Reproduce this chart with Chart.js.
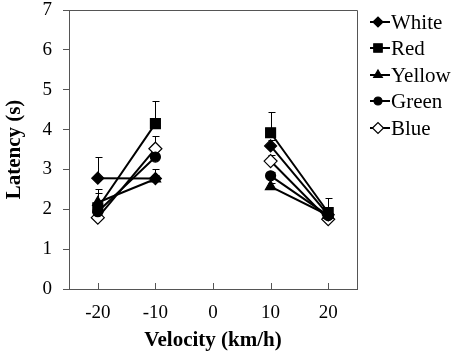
<!DOCTYPE html>
<html>
<head>
<meta charset="utf-8">
<script src="https://cdn.jsdelivr.net/npm/chart.js@4/dist/chart.umd.min.js"></script>
<style>
  html, body { margin: 0; padding: 0; background: #fff; }
  #wrap { width: 454px; height: 354px; }
</style>
</head>
<body>
<div id="wrap"><canvas id="latencyChart" width="454" height="354"></canvas></div>
<script>
// velocity (km/h), 0 is a gap between the two groups
const velocities = [-20, -10, 0, 10, 20];
const xTicks = [-20, -10, 0, 10, 20];
const yTicks = [0, 1, 2, 3, 4, 5, 6, 7];

const seriesNames = ["White", "Red", "Yellow", "Green", "Blue"];
const white = [2.78, 2.77, null, 3.59, 1.86];
const red = [2.04, 4.15, null, 3.92, 1.92];
const yellow = [2.17, 2.76, null, 2.57, 1.85];
const green = [1.94, 3.31, null, 2.84, 1.84];
const blue = [1.79, 3.52, null, 3.21, 1.75];

// upper error (s)
const whiteErr = [0.52, 0.1, null, 0.15, 0.1];
const redErr = [0.36, 0.57, null, 0.53, 0.36];
const yellowErr = [0.33, 0.24, null, 0.1, 0.1];
const greenErr = [0.15, 0.15, null, 0.1, 0.1];
const blueErr = [0.15, 0.33, null, 0.15, 0.1];

const allValues = [white, red, yellow, green, blue];
const allErrors = [whiteErr, redErr, yellowErr, greenErr, blueErr];

const markers = [
  { pointStyle: "rectRot", radius: 6, fill: "#000" },
  { pointStyle: "rect", radius: 7, fill: "#000" },
  { pointStyle: "triangle", radius: 6, fill: "#000" },
  { pointStyle: "circle", radius: 5, fill: "#000" },
  { pointStyle: "rectRot", radius: 6.5, fill: "#fff" },
];

const serif = "'Liberation Serif', 'Times New Roman', serif";
const boxColor = "#555";

const datasets = seriesNames.map((name, i) => ({
  label: name,
  data: velocities.map((v, j) => ({ x: v, y: allValues[i][j] })),
  errors: allErrors[i],
  borderColor: "#000",
  borderWidth: 2,
  pointStyle: markers[i].pointStyle,
  pointRadius: markers[i].radius,
  pointHoverRadius: markers[i].radius,
  pointBackgroundColor: markers[i].fill,
  pointBorderColor: "#000",
  pointBorderWidth: 1.2,
  spanGaps: false,
  tension: 0,
}));

// error bars, drawn under the markers
const errorBars = {
  id: "errorBars",
  beforeDatasetsDraw: (chart) => {
    const ctx = chart.ctx;
    const xs = chart.scales.x;
    const ys = chart.scales.y;
    ctx.save();
    ctx.strokeStyle = "#000";
    ctx.lineWidth = 1;
    chart.data.datasets.forEach((ds) => {
      ds.data.forEach((p, j) => {
        const e = ds.errors[j];
        if (p.y === null || e === null) return;
        const px = Math.round(xs.getPixelForValue(p.x)) + 0.5;
        const y0 = ys.getPixelForValue(p.y);
        const y1 = Math.round(ys.getPixelForValue(p.y + e)) + 0.5;
        ctx.beginPath();
        ctx.moveTo(px, y0);
        ctx.lineTo(px, y1);
        ctx.moveTo(px - 3, y1);
        ctx.lineTo(px + 4, y1);
        ctx.stroke();
      });
    });
    ctx.restore();
  },
};

// top/right frame, inner x ticks and the legend
const frameAndLegend = {
  id: "frameAndLegend",
  afterDraw: (chart) => {
    const ctx = chart.ctx;
    const a = chart.chartArea;
    const xs = chart.scales.x;
    ctx.save();
    ctx.strokeStyle = boxColor;
    ctx.lineWidth = 1;
    ctx.beginPath();
    ctx.moveTo(Math.round(a.left) + 0.5, Math.round(a.top) + 0.5);
    ctx.lineTo(Math.round(a.right) + 0.5, Math.round(a.top) + 0.5);
    ctx.lineTo(Math.round(a.right) + 0.5, Math.round(a.bottom) + 0.5);
    ctx.stroke();
    xTicks.forEach((t) => {
      const px = Math.round(xs.getPixelForValue(t)) + 0.5;
      ctx.beginPath();
      ctx.moveTo(px, a.bottom);
      ctx.lineTo(px, a.bottom - 6);
      ctx.stroke();
    });

    // legend
    const lx = 370;
    const rows = [22, 48, 75, 101, 128];
    ctx.font = "21px " + serif;
    ctx.textBaseline = "middle";
    ctx.textAlign = "left";
    chart.data.datasets.forEach((ds, i) => {
      const y = rows[i];
      ctx.strokeStyle = "#000";
      ctx.lineWidth = 2;
      ctx.beginPath();
      ctx.moveTo(lx, y);
      ctx.lineTo(lx + 20, y);
      ctx.stroke();
      ctx.fillStyle = ds.pointBackgroundColor;
      ctx.strokeStyle = "#000";
      ctx.lineWidth = 1.2;
      Chart.helpers.drawPoint(ctx, {
        pointStyle: ds.pointStyle,
        radius: ds.pointRadius - 1,
        rotation: 0,
        borderWidth: 1.2,
      }, lx + 8, y);
      ctx.fillStyle = "#000";
      ctx.fillText(ds.label, lx + 21, y + 1);
    });
    ctx.restore();
  },
};

const ctx = document.getElementById("latencyChart").getContext("2d");
const latencyChart = new Chart(ctx, {
  type: "line",
  data: { datasets: datasets },
  plugins: [errorBars, frameAndLegend],
  options: {
    responsive: false,
    animation: false,
    events: [],
    layout: { padding: { top: 10, right: 97, left: 0, bottom: 0 } },
    plugins: {
      legend: { display: false },
      tooltip: { enabled: false },
    },
    scales: {
      x: {
        type: "linear",
        min: -25,
        max: 25,
        afterBuildTicks: (scale) => {
          scale.ticks = xTicks.map((v) => ({ value: v }));
        },
        afterFit: (scale) => {
          scale.height = 65;
        },
        grid: { display: true, drawOnChartArea: false, drawTicks: false },
        border: { display: true, color: boxColor, width: 1 },
        ticks: {
          color: "#000",
          padding: 13,
          maxRotation: 0,
          font: { family: serif, size: 19 },
        },
        title: {
          display: true,
          text: "Velocity (km/h)",
          color: "#000",
          padding: { top: 0, bottom: 1 },
          font: { family: serif, size: 21, weight: "bold" },
        },
      },
      y: {
        min: 0,
        max: 7,
        afterBuildTicks: (scale) => {
          scale.ticks = yTicks.map((v) => ({ value: v }));
        },
        afterFit: (scale) => {
          scale.width = 69;
          scale.paddingTop = 0;
          scale.paddingBottom = 0;
        },
        grid: { drawOnChartArea: false, drawTicks: true, tickLength: 6, color: boxColor },
        border: { display: true, color: boxColor, width: 1 },
        ticks: {
          color: "#000",
          padding: 11,
          font: { family: serif, size: 19 },
        },
        title: {
          display: true,
          text: "Latency (s)",
          color: "#000",
          padding: { top: 2, bottom: 0 },
          font: { family: serif, size: 21, weight: "bold" },
        },
      },
    },
  },
});
</script>
</body>
</html>
